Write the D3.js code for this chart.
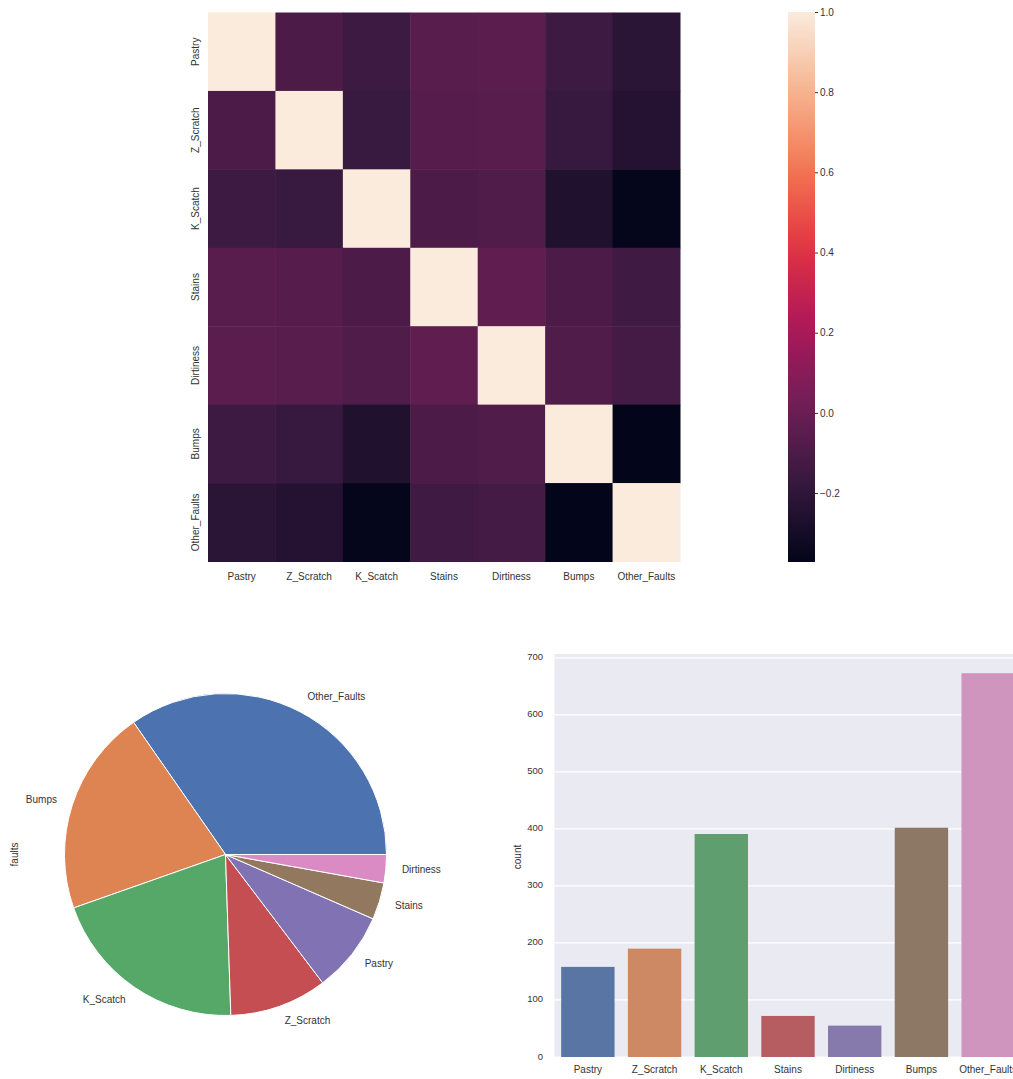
<!DOCTYPE html>
<html>
<head>
<meta charset="utf-8">
<script src="https://cdn.jsdelivr.net/npm/d3@7"></script>
<style>
  body { margin: 0; background: #fff; }
  svg text { font-family: "Liberation Sans", Arial, sans-serif; fill: #333; }
</style>
</head>
<body>
<div id="chart"></div>
<script>
// fault classes (heatmap order)
const faults = ["Pastry", "Z_Scratch", "K_Scatch", "Stains", "Dirtiness", "Bumps", "Other_Faults"];

// correlation rows, same order as faults
const corrPastry    = [1.000, -0.098, -0.150, -0.058, -0.051, -0.152, -0.217];
const corrZScratch  = [-0.098, 1.000, -0.165, -0.065, -0.056, -0.168, -0.240];
const corrKScatch   = [-0.150, -0.165, 1.000, -0.099, -0.086, -0.257, -0.366];
const corrStains    = [-0.058, -0.065, -0.099, 1.000, -0.034, -0.100, -0.143];
const corrDirtiness = [-0.051, -0.056, -0.086, -0.034, 1.000, -0.087, -0.125];
const corrBumps     = [-0.152, -0.168, -0.257, -0.100, -0.087, 1.000, -0.372];
const corrOther     = [-0.217, -0.240, -0.366, -0.143, -0.125, -0.372, 1.000];
const corrRows = [corrPastry, corrZScratch, corrKScatch, corrStains, corrDirtiness, corrBumps, corrOther];

const colorbarTicks = [1.0, 0.8, 0.6, 0.4, 0.2, 0.0, -0.2];

// counts per class (bar chart order)
const faultCounts = [158, 190, 391, 72, 55, 402, 673];

// pie order (value_counts order)
const pieLabels = ["Other_Faults", "Bumps", "K_Scatch", "Z_Scratch", "Pastry", "Stains", "Dirtiness"];
const pieValues = [673, 402, 391, 190, 158, 72, 55];

const countTicks = [0, 100, 200, 300, 400, 500, 600, 700];

const deep = ["#4C72B0", "#DD8452", "#55A868", "#C44E52", "#8172B3", "#937860", "#DA8BC3"];
const deepMuted = ["#5975a4", "#cc8963", "#5f9e6e", "#b55d60", "#857aab", "#8d7866", "#d095bf"];

// rocket colormap approximation
const rocketStops = [0, 0.143, 0.286, 0.429, 0.571, 0.714, 0.857, 1];
const rocketColors = ["#03051a", "#35193e", "#701f57", "#ad1759", "#e13342", "#f37651", "#f6b48f", "#faebdd"];
const rocket = d3.scaleLinear().domain(rocketStops).range(rocketColors).interpolate(d3.interpolateRgb);

const svg = d3.select("#chart").append("svg")
    .attr("width", 1013)
    .attr("height", 1079);

// ---------- heatmap ----------
const cells = [];
corrRows.forEach((row, i) => row.forEach((v, j) => cells.push({ r: faults[i], c: faults[j], v })));

const vmin = d3.min(cells, d => d.v), vmax = d3.max(cells, d => d.v);
const color = v => rocket((v - vmin) / (vmax - vmin));

const hx = d3.scaleBand().domain(faults).range([208, 680]);
const hy = d3.scaleBand().domain(faults).range([12.5, 561.5]);

const heat = svg.append("g");
heat.selectAll("rect")
    .data(cells)
    .enter().append("rect")
    .attr("x", d => hx(d.c))
    .attr("y", d => hy(d.r))
    .attr("width", hx.bandwidth() + 0.5)
    .attr("height", hy.bandwidth() + 0.5)
    .attr("fill", d => color(d.v));

heat.selectAll(".xl")
    .data(faults)
    .enter().append("text")
    .attr("x", d => hx(d) + hx.bandwidth() / 2)
    .attr("y", 577)
    .attr("text-anchor", "middle")
    .attr("dominant-baseline", "middle")
    .attr("font-size", "10px")
    .text(d => d);

heat.selectAll(".yl")
    .data(faults)
    .enter().append("text")
    .attr("transform", d => "translate(196," + (hy(d) + hy.bandwidth() / 2) + ") rotate(-90)")
    .attr("text-anchor", "middle")
    .attr("dominant-baseline", "middle")
    .attr("font-size", "10px")
    .text(d => d);

// colorbar
const cbY = d3.scaleLinear().domain([vmin, vmax]).range([562, 12]);
const grad = svg.append("defs").append("linearGradient")
    .attr("id", "cbgrad")
    .attr("x1", 0).attr("y1", 1).attr("x2", 0).attr("y2", 0);
d3.range(0, 1.0001, 0.05).forEach(t => {
    grad.append("stop").attr("offset", t).attr("stop-color", rocket(t));
});
svg.append("rect")
    .attr("x", 788).attr("y", 12)
    .attr("width", 27).attr("height", 550)
    .attr("fill", "url(#cbgrad)");

const cbAxis = svg.append("g")
    .attr("transform", "translate(815,0)")
    .call(d3.axisRight(cbY).tickValues(colorbarTicks).tickSize(3).tickPadding(2).tickFormat(d3.format(".1f")));
cbAxis.select(".domain").remove();
cbAxis.selectAll("line").attr("stroke", "#333");
cbAxis.selectAll("text").attr("font-size", "10px").attr("font-family", "Liberation Sans, Arial, sans-serif")
    .text(d => d3.format(".1f")(d).replace("-", "\u2212"));

// ---------- pie ----------
const pcx = 225.5, pcy = 854.5, pr = 161;
const pieData = pieLabels.map((label, i) => ({ label, value: pieValues[i], color: deep[i] }));
const pie = d3.pie().sort(null).value(d => d.value)
    .startAngle(Math.PI / 2).endAngle(Math.PI / 2 - 2 * Math.PI);
const arc = d3.arc().innerRadius(0).outerRadius(pr);
const arcs = pie(pieData);

const pieG = svg.append("g").attr("transform", "translate(" + pcx + "," + pcy + ")");
pieG.selectAll("path")
    .data(arcs)
    .enter().append("path")
    .attr("d", arc)
    .attr("fill", d => d.data.color)
    .attr("stroke", "#fff")
    .attr("stroke-width", 1);

pieG.selectAll("text")
    .data(arcs)
    .enter().append("text")
    .attr("x", d => Math.sin((d.startAngle + d.endAngle) / 2) * pr * 1.1)
    .attr("y", d => -Math.cos((d.startAngle + d.endAngle) / 2) * pr * 1.1)
    .attr("text-anchor", d => Math.sin((d.startAngle + d.endAngle) / 2) > 0 ? "start" : "end")
    .attr("dominant-baseline", "middle")
    .attr("font-size", "10px")
    .text(d => d.data.label);

svg.append("text")
    .attr("transform", "translate(15," + pcy + ") rotate(-90)")
    .attr("text-anchor", "middle")
    .attr("dominant-baseline", "middle")
    .attr("font-size", "10px")
    .text("faults");

// ---------- count bar chart ----------
const bLeft = 554.5, bTop = 654, bBottom = 1057;
const bx = d3.scaleBand().domain(faults).range([bLeft, bLeft + 467]).paddingInner(0.2).paddingOuter(0.1);
const by = d3.scaleLinear().domain([0, d3.max(faultCounts) * 1.05]).range([bBottom, bTop]);

const barG = svg.append("g");
barG.append("rect")
    .attr("x", bLeft).attr("y", bTop)
    .attr("width", 467).attr("height", bBottom - bTop)
    .attr("fill", "#eaeaf2");

barG.selectAll(".grid")
    .data(countTicks)
    .enter().append("line")
    .attr("x1", bLeft).attr("x2", bLeft + 467)
    .attr("y1", d => by(d)).attr("y2", d => by(d))
    .attr("stroke", "#fff")
    .attr("stroke-width", 1.2);

barG.selectAll(".bar")
    .data(faults)
    .enter().append("rect")
    .attr("x", d => bx(d))
    .attr("y", (d, i) => by(faultCounts[i]))
    .attr("width", bx.bandwidth())
    .attr("height", (d, i) => bBottom - by(faultCounts[i]))
    .attr("fill", (d, i) => deepMuted[i]);

barG.selectAll(".yt")
    .data(countTicks)
    .enter().append("text")
    .attr("x", 543)
    .attr("y", d => by(d))
    .attr("text-anchor", "end")
    .attr("dominant-baseline", "middle")
    .attr("font-size", "9.5px")
    .text(d => d);

barG.selectAll(".xt")
    .data(faults)
    .enter().append("text")
    .attr("x", d => bx(d) + bx.bandwidth() / 2)
    .attr("y", 1070)
    .attr("text-anchor", "middle")
    .attr("dominant-baseline", "middle")
    .attr("font-size", "10px")
    .text(d => d);

svg.append("text")
    .attr("transform", "translate(518,857) rotate(-90)")
    .attr("text-anchor", "middle")
    .attr("dominant-baseline", "middle")
    .attr("font-size", "10px")
    .text("count");
</script>
</body>
</html>
